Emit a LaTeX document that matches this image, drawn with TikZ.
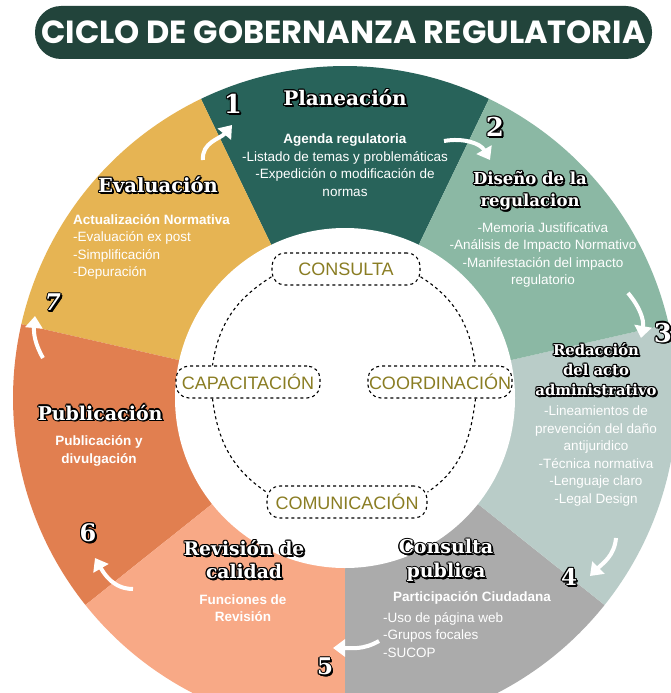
\documentclass[tikz,border=0pt]{standalone}
\usepackage{fontspec}
\setmainfont{Liberation Sans}
\newfontfamily\headfont{DejaVu Serif}
\newfontfamily\titlefont{Poppins}
\usetikzlibrary{arrows.meta}
\definecolor{titlebg}{HTML}{22443B}
\definecolor{plan}{HTML}{28635A}
\definecolor{disen}{HTML}{8BB8A4}
\definecolor{redac}{HTML}{B9CCC8}
\definecolor{consul}{HTML}{ABABAB}
\definecolor{revis}{HTML}{F8A986}
\definecolor{publ}{HTML}{E17F50}
\definecolor{eval}{HTML}{E6B453}
\definecolor{olive}{HTML}{8A7D23}
% white letters with a black outline and a small drop shadow
\newcommand\olcp[2]{\rlap{\kern#1\raise#2\hbox{\color{black}\copy0}}}
\newcommand\outl[1]{{\setbox0=\hbox{#1}%
\olcp{1.1pt}{0pt}\olcp{-1.1pt}{0pt}\olcp{0pt}{1.1pt}\olcp{0pt}{-1.1pt}%
\olcp{.8pt}{.8pt}\olcp{-.8pt}{.8pt}\olcp{.8pt}{-.8pt}\olcp{-.8pt}{-.8pt}%
\olcp{1.7pt}{-1.7pt}\olcp{1.3pt}{-1.9pt}\olcp{1.9pt}{-1.3pt}%
\hbox{\color{white}\box0}}}
\begin{document}
\begin{tikzpicture}[x=1pt,y=1pt,
  titlebox/.style={fill=titlebg, rounded corners=26pt, minimum width=617pt, minimum height=53pt, inner sep=0pt,
    text=white, font=\titlefont\bfseries\fontsize{32}{32}\selectfont},
  head/.style={inner sep=0pt, align=center, font=\headfont\bfseries\fontsize{19}{23}\selectfont},
  body/.style={inner sep=0pt, text=white, font=\fontsize{13.5}{17.5}\selectfont},
  bodyb/.style={body, font=\bfseries\fontsize{13.5}{17.5}\selectfont},
  num/.style={inner sep=0pt, font=\headfont\bfseries\fontsize{26}{26}\selectfont},
  ibox/.style={draw=black, dashed, line width=1.1pt, fill=white, rounded corners=13pt, minimum height=32pt,
    inner sep=0pt, text=olive, font=\fontsize{18}{18}\selectfont},
  link/.style={draw=black, dashed, line width=1.1pt},
  arr/.style={white, line width=4pt, -{Triangle[width=17pt,length=12pt]}}
]
\useasboundingbox (0,0) rectangle (671,-693);
\fill[white] (0,0) rectangle (671,-693);
% title
\node[titlebox] (title) at (343.5,-32.5) {CICLO DE GOBERNANZA REGULATORIA};
% wheel
\coordinate (C) at (345,-398);
\begin{scope}
\clip (0,0) rectangle (671,-693);
\foreach \a/\col in {64.29/plan, 115.71/eval, 167.14/publ, 218.57/revis, 270/consul, 321.43/redac, 12.86/disen}{
  \fill[\col] (C) -- ++(\a:332) arc[start angle=\a, delta angle=51.43, radius=332] -- cycle;
}
\end{scope}
\fill[white] (C) circle[radius=170];
% inner cycle
\node[ibox, minimum width=148pt] (cons) at (346,-269) {CONSULTA};
\node[ibox, minimum width=144pt] (capa) at (248,-382) {CAPACITACIÓN};
\node[ibox, minimum width=144pt] (coor) at (440,-382) {COORDINACIÓN};
\node[ibox, minimum width=160pt] (comu) at (347,-502) {COMUNICACIÓN};
\draw[link] (cons.186) to[out=212,in=82] (capa.155);
\draw[link] (capa.205) to[out=277,in=146] (comu.173);
\draw[link] (cons.354) to[out=-32,in=98] (coor.25);
\draw[link] (coor.335) to[out=263,in=34] (comu.7);
% headings
\node[head, font=\headfont\bfseries\fontsize{20}{23}\selectfont] (hplan) at (345,-98) {\outl{Planeación}};
\node[head, font=\headfont\bfseries\fontsize{19.5}{23}\selectfont] (heval) at (158,-185) {\outl{Evaluación}};
\node[head, font=\headfont\bfseries\fontsize{16.5}{22}\selectfont] (hdisen) at (530,-191) {\outl{Diseño de la}\\\outl{regulacion}};
\node[head, font=\headfont\bfseries\fontsize{14.8}{20}\selectfont] (hredac) at (596,-370) {\outl{Redacción}\\\outl{del acto}\\\outl{administrativo}};
\node[head] (hpubl) at (100,-413) {\outl{Publicación}};
\node[head, font=\headfont\bfseries\fontsize{18.7}{23}\selectfont] (hrevis) at (244,-560) {\outl{Revisión de}\\\outl{calidad}};
\node[head, font=\headfont\bfseries\fontsize{19}{24}\selectfont] (hcons) at (446,-561) {\outl{Consulta}\\\outl{publica}};
% body texts
\node[body, align=center] (tplan) at (345,-165) {\textbf{Agenda regulatoria}\\-Listado de temas y problemáticas\\-Expedición o modificación de\\normas};
\node[body, align=left, anchor=west] (teval) at (73,-247) {\textbf{Actualización Normativa}\\-Evaluación ex post\\-Simplificación\\-Depuración};
\node[body, align=center] (tdisen) at (543,-255) {-Memoria Justificativa\\-Análisis de Impacto Normativo\\-Manifestación del impacto\\regulatorio};
\node[body, align=center] (tredac) at (596,-456) {-Lineamientos de\\prevención del daño\\antijuridico\\-Técnica normativa\\-Lenguaje claro\\-Legal Design};
\node[bodyb, align=center] (tpubl) at (99,-451) {Publicación y\\divulgación};
\node[bodyb, align=center] (trevis) at (243,-608) {Funciones de\\Revisión};
\node[bodyb] (tcons1) at (472,-598) {Participación Ciudadana};
\node[body, align=left, anchor=west] (tcons2) at (383,-635) {-Uso de página web\\-Grupos focales\\-SUCOP};
% numbers
\node[num] (n1) at (233,-104) {\outl{1}};
\node[num] (n2) at (495,-127) {\outl{2}};
\node[num] (n3) at (663,-333) {\outl{3}};
\node[num, font=\headfont\bfseries\fontsize{23}{23}\selectfont] (n4) at (569,-577) {\outl{4}};
\node[num, font=\headfont\bfseries\fontsize{23}{23}\selectfont] (n5) at (325,-667) {\outl{5}};
\node[num, font=\headfont\bfseries\fontsize{24}{24}\selectfont] (n6) at (88,-533) {\outl{6}};
\node[num, font=\headfont\bfseries\itshape\fontsize{23}{23}\selectfont] (n7) at (53,-303) {\outl{7}};
% arrows
\coordinate (a1s) at (203,-160); \coordinate (a1e) at (232,-125);
\coordinate (a2s) at (444,-141); \coordinate (a2e) at (490,-160);
\coordinate (a3s) at (628,-293); \coordinate (a3e) at (641,-338);
\coordinate (a4s) at (616,-538); \coordinate (a4e) at (590,-576);
\coordinate (a5s) at (379,-641); \coordinate (a5e) at (333,-648);
\coordinate (a6s) at (133,-589); \coordinate (a6e) at (95,-558);
\coordinate (a7s) at (43,-358);  \coordinate (a7e) at (35,-316);
\draw[arr] (a1s) to[out=95,in=-130] (a1e);
\draw[arr] (a2s) to[out=10,in=120] (a2e);
\draw[arr] (a3s) to[out=-50,in=80] (a3e);
\draw[arr] (a4s) to[out=-95,in=45] (a4e);
\draw[arr] (a5s) to[out=210,in=0] (a5e);
\draw[arr] (a6s) to[out=180,in=-60] (a6e);
\draw[arr] (a7s) to[out=120,in=-95] (a7e);
\end{tikzpicture}
\end{document}
